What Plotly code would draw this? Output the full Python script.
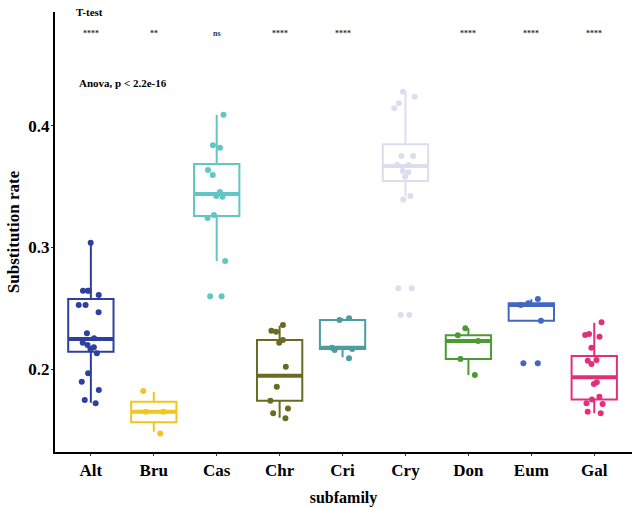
import plotly.graph_objects as go

categories = ["Alt", "Bru", "Cas", "Chr", "Cri", "Cry", "Don", "Eum", "Gal"]
colors = ["#2F3F9E", "#F2C61E", "#62C6C4", "#6B6A22", "#4E9C9C", "#DEDDF0", "#4C9A34", "#4466C4", "#E0307C"]

q1 = [0.2142, 0.1561, 0.3259, 0.1739, 0.2165, 0.3547, 0.2082, 0.2398, 0.1750]
median = [0.2247, 0.1649, 0.3440, 0.1945, 0.2175, 0.3671, 0.2230, 0.2527, 0.1932]
q3 = [0.2576, 0.1731, 0.3687, 0.2239, 0.2403, 0.3849, 0.2277, 0.2541, 0.2107]
lowerfence = [0.1723, 0.1484, 0.2889, 0.1599, 0.2096, 0.3426, 0.1951, 0.2398, 0.1635]
upperfence = [0.3040, 0.1813, 0.4091, 0.2356, 0.2417, 0.4282, 0.2335, 0.2574, 0.2381]

alt = [0.3040, 0.2644, 0.2644, 0.2644, 0.2609, 0.2527, 0.2527, 0.2467, 0.2294, 0.2253,
       0.2216, 0.2198, 0.2179, 0.2165, 0.2129, 0.1965, 0.1895, 0.1827, 0.1745, 0.1718]
bru = [0.1818, 0.1649, 0.1649, 0.1470]
cas = [0.4093, 0.3821, 0.3841, 0.3638, 0.3597, 0.3424, 0.3418, 0.3457, 0.3267, 0.3243,
       0.2889, 0.2598, 0.2598]
chr_ = [0.2362, 0.2307, 0.2315, 0.2239, 0.2216, 0.2019, 0.1854, 0.1739, 0.1676, 0.1635, 0.1594]
cri = [0.2417, 0.2403, 0.2175, 0.2165, 0.2156, 0.2088]
cry = [0.4282, 0.4241, 0.4187, 0.4146, 0.3753, 0.3753, 0.3679, 0.3679, 0.3630, 0.3619,
       0.3583, 0.3424, 0.3394, 0.2664, 0.2664, 0.2444, 0.2444]
don = [0.2335, 0.2277, 0.2230, 0.2082, 0.1951]
eum = [0.2576, 0.2541, 0.2527, 0.2398, 0.2047, 0.2047]
gal = [0.2384, 0.2288, 0.2280, 0.2266, 0.2175, 0.2068, 0.2074, 0.2041, 0.1891, 0.1877,
       0.1772, 0.1750, 0.1712, 0.1718, 0.1649, 0.1635]
points = [alt, bru, cas, chr_, cri, cry, don, eum, gal]

ttest_labels = ["****", "**", "ns", "****", "****", "", "****", "****", "****"]
ttest_y = 0.4760
anova_text = "Anova, p < 2.2e-16"

FONT = "Liberation Serif"
fig = go.Figure()

for i, cat in enumerate(categories):
    c = colors[i]
    # box with whiskers
    fig.add_trace(go.Box(
        x=[cat], q1=[q1[i]], median=[median[i]], q3=[q3[i]],
        lowerfence=[lowerfence[i]], upperfence=[upperfence[i]],
        width=0.72, whiskerwidth=0, line=dict(color=c, width=2),
        fillcolor="rgba(255,255,255,0)", boxpoints=False, showlegend=False,
    ))
    # thick median bar
    fig.add_trace(go.Box(
        x=[cat], q1=[median[i]], median=[median[i]], q3=[median[i]],
        lowerfence=[median[i]], upperfence=[median[i]],
        width=0.72, whiskerwidth=0, line=dict(color=c, width=4),
        fillcolor=c, boxpoints=False, showlegend=False,
    ))
    # jittered points
    fig.add_trace(go.Box(
        x=[cat] * len(points[i]), y=points[i],
        width=0.72, boxpoints="all", jitter=0.55, pointpos=0,
        line=dict(color="rgba(0,0,0,0)", width=0), fillcolor="rgba(0,0,0,0)",
        whiskerwidth=0, marker=dict(color=c, size=6, line=dict(width=0)),
        showlegend=False, hoveron="points",
    ))

plot_left, plot_w = 55, 577
annotations = []
for cat, lab in zip(categories, ttest_labels):
    if lab:
        annotations.append(dict(x=cat, y=ttest_y, xref="x", yref="y", text="<b>%s</b>" % lab,
                                showarrow=False, font=dict(family=FONT, size=8, color="#333333")))
annotations.append(dict(x=(74 - plot_left) / plot_w, y=0.4935, xref="paper", yref="y",
                        text="<b>T-test</b>", showarrow=False, xanchor="left",
                        font=dict(family=FONT, size=11, color="black")))
annotations.append(dict(x=(77 - plot_left) / plot_w, y=0.4355, xref="paper", yref="y",
                        text="<b>%s</b>" % anova_text, showarrow=False, xanchor="left",
                        font=dict(family=FONT, size=11, color="black")))

fig.update_layout(
    width=632, height=508,
    margin=dict(l=55, r=0, t=12, b=56),
    plot_bgcolor="white", paper_bgcolor="white",
    boxmode="overlay",
    showlegend=False,
    annotations=annotations,
    font=dict(family=FONT, color="black"),
    xaxis=dict(
        range=[-0.57, 8.6], showgrid=False, zeroline=False,
        showline=True, linecolor="black", linewidth=2,
        ticks="outside", ticklen=2, tickcolor="#333333", tickwidth=1,
        tickfont=dict(family=FONT, size=17, color="black", weight="bold"),
        title=dict(text="<b>subfamily</b>", font=dict(family=FONT, size=16, color="black"), standoff=12),
        categoryorder="array", categoryarray=categories,
    ),
    yaxis=dict(
        range=[0.1317, 0.4938], showgrid=False, zeroline=False,
        showline=True, linecolor="black", linewidth=2,
        ticks="outside", ticklen=2, tickcolor="#333333", tickwidth=1,
        ticklabelstandoff=-2,
        tickvals=[0.2, 0.3, 0.4], ticktext=["0.2", "0.3", "0.4"],
        tickfont=dict(family=FONT, size=17, color="black", weight="bold"),
        title=dict(text="<b>Substitution rate</b>", font=dict(family=FONT, size=17, color="black"), standoff=4),
    ),
)

fig.write_html("out.html")
